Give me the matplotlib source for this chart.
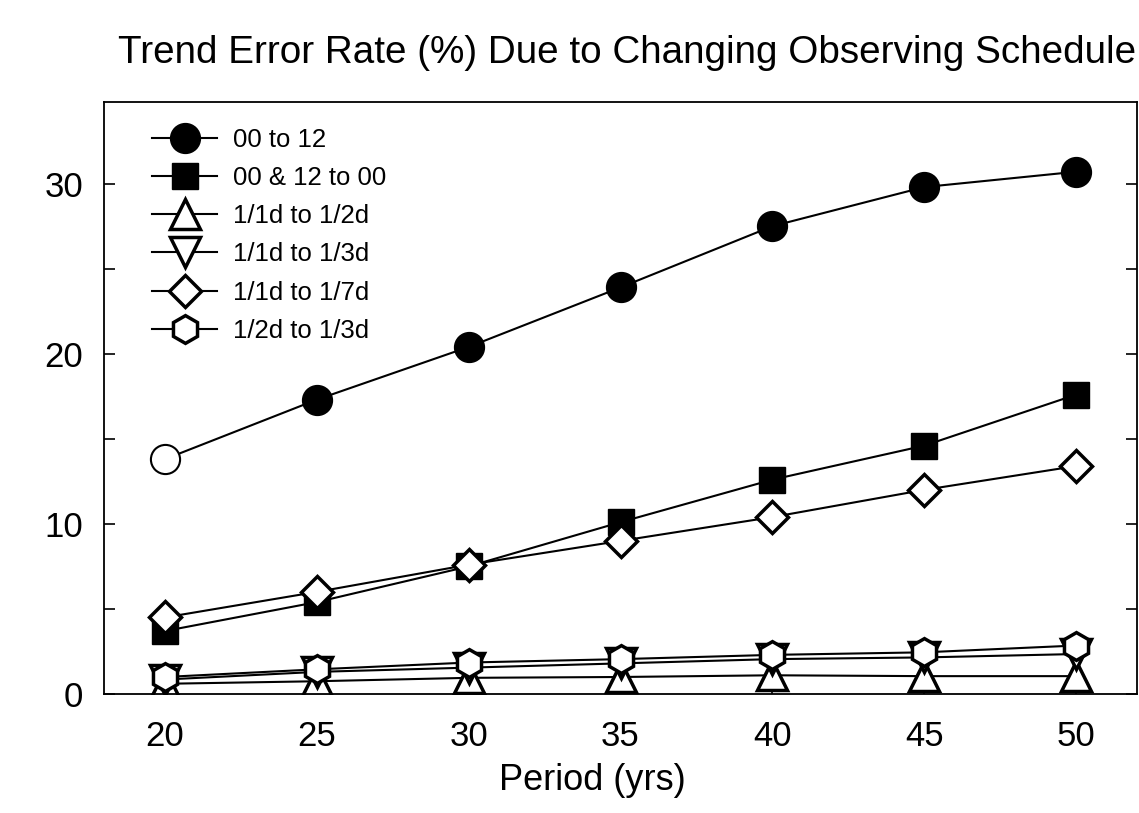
import matplotlib
matplotlib.use("Agg")
import matplotlib.pyplot as plt
from matplotlib.ticker import MultipleLocator

plt.rcParams['font.family'] = ['Liberation Sans', 'DejaVu Sans']

period = [20, 25, 30, 35, 40, 45, 50]
labels = ["00 to 12", "00 & 12 to 00", "1/1d to 1/2d", "1/1d to 1/3d", "1/1d to 1/7d", "1/2d to 1/3d"]
err_00_to_12 = [13.8, 17.3, 20.4, 23.9, 27.5, 29.8, 30.7]
err_00_12_to_00 = [3.7, 5.4, 7.5, 10.1, 12.6, 14.6, 17.6]
err_1d_to_2d = [0.6, 0.75, 0.95, 1.0, 1.1, 1.05, 1.05]
err_1d_to_3d = [0.85, 1.3, 1.55, 1.8, 2.05, 2.15, 2.35]
err_1d_to_7d = [4.5, 6.0, 7.6, 9.0, 10.4, 12.0, 13.4]
err_2d_to_3d = [1.0, 1.45, 1.85, 2.05, 2.3, 2.45, 2.85]

def plot():
    fig = plt.figure(figsize=(11.39, 8.13), dpi=100)
    ax = fig.add_axes([104/1139, 1-694/813, (1137-104)/1139, (694-102)/813])

    # first point of 00 to 12 is drawn hollow
    ax.plot(period, err_00_to_12, color='black', lw=1.5, marker='o', ms=21.5,
            mfc='black', mec='black', mew=1, markevery=list(range(1, 7)), label=labels[0])
    ax.plot(period[0], err_00_to_12[0], ls='none', marker='o', ms=21,
            mfc='white', mec='black', mew=1.5)
    ax.plot(period, err_00_12_to_00, color='black', lw=1.5, marker='s', ms=18.5,
            mfc='black', mec='black', mew=1, label=labels[1])
    open_style = dict(color='black', lw=1.5, mfc='white', mec='black', mew=2.5)
    ax.plot(period, err_1d_to_2d, marker='^', ms=22, label=labels[2], **open_style)
    ax.plot(period, err_1d_to_3d, marker='v', ms=22, label=labels[3], **open_style)
    ax.plot(period, err_1d_to_7d, marker='D', ms=16.5, label=labels[4], **open_style)
    ax.plot(period, err_2d_to_3d, marker='h', ms=20, label=labels[5], **open_style)

    ax.set_xlim(18, 52)
    ax.set_ylim(0, 34.8)
    ax.set_xticks(period)
    ax.yaxis.set_major_locator(MultipleLocator(10))
    ax.yaxis.set_minor_locator(MultipleLocator(5))
    ax.tick_params(axis='both', which='both', direction='in', width=1.2, labelsize=25)
    ax.tick_params(axis='y', which='both', length=8, right=True, labelright=False, pad=15)
    ax.tick_params(axis='x', length=9, top=False, pad=19)
    for s in ax.spines.values():
        s.set_linewidth(1.3)

    ax.set_xlabel('Period (yrs)', fontsize=26)
    ax.xaxis.set_label_coords((592-104)/1033, -(780-694)/592)
    ax.xaxis.label.set_va('center')
    fig.text(118/1139, 1-63/813, 'Trend Error Rate (%) Due to Changing Observing Schedule',
             fontsize=27.8, ha='left', va='baseline')

    ax.legend(loc='upper left', bbox_to_anchor=(48/1033, 1-26/592), frameon=False,
              fontsize=18.5, handlelength=2.53, handletextpad=0.62, labelspacing=0.55,
              borderpad=0, borderaxespad=0)
    fig.savefig('out.png', dpi=100)

plot()
